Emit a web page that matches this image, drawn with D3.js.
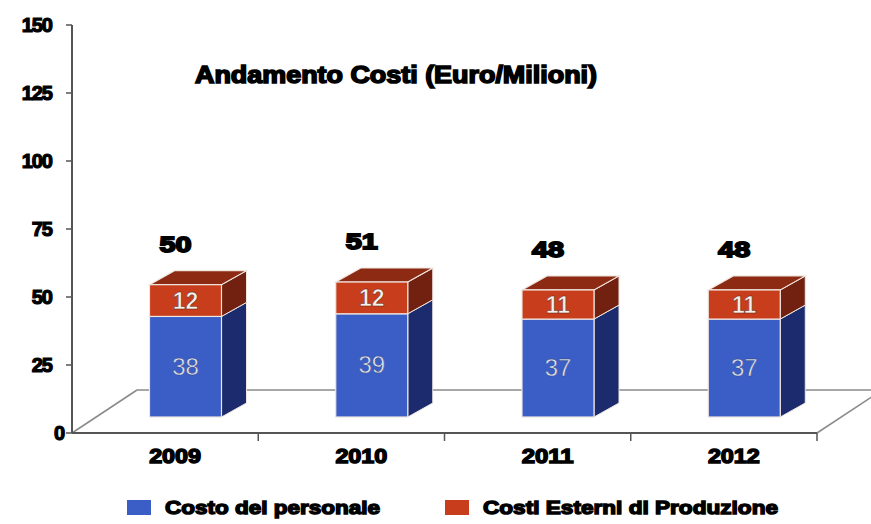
<!DOCTYPE html>
<html>
<head>
<meta charset="utf-8">
<script src="https://cdn.jsdelivr.net/npm/d3@7/dist/d3.min.js"></script>
<style>
  html, body { margin: 0; padding: 0; background: #fff; }
  svg { display: block; }
</style>
</head>
<body>
<script>
const years = ["2009", "2010", "2011", "2012"];
const personale = [38, 39, 37, 37];
const esterni = [12, 12, 11, 11];
const totals = [50, 51, 48, 48];
const yTicks = [0, 25, 50, 75, 100, 125, 150];
const seriesNames = ["Costo del personale", "Costi Esterni di Produzione"];
const title = "Andamento Costi (Euro/Milioni)";

const W = 871, H = 524;
const svg = d3.select("body").append("svg").attr("width", W).attr("height", H);

const x = d3.scaleBand().domain(years).range([72, 817]).padding(0);
const y = d3.scaleLinear().domain([0, 150]).range([433, 25]);
const yBar = d3.scaleLinear().domain([0, 150]).range([417, 20]);

const barW = 72, dx = 25, dy = -14;
const blue = {front: "#3b5ec6", side: "#1b2b6e", top: "#2a45a0"};
const red = {front: "#c83e1c", side: "#722110", top: "#8c2a13"};
const edge = "#efe6e0";
const font = "Liberation Sans, Arial, sans-serif";

// Floor
const floorD = 65, floorH = 43;
const floor = svg.append("g").attr("fill", "none").attr("stroke", "#8a8a8a").attr("stroke-width", 1.5);
floor.append("line").attr("x1", 72).attr("y1", y(0)).attr("x2", 72 + floorD).attr("y2", y(0) - floorH);
floor.append("line").attr("x1", 72 + floorD).attr("y1", y(0) - floorH).attr("x2", W).attr("y2", y(0) - floorH);
floor.append("line").attr("x1", 817).attr("y1", y(0)).attr("x2", 817 + floorD).attr("y2", y(0) - floorH);

// Y axis
const yAxis = svg.append("g");
yAxis.append("line").attr("x1", 72).attr("x2", 72).attr("y1", y(150)).attr("y2", y(0))
  .attr("stroke", "#555").attr("stroke-width", 2);
yAxis.selectAll(".yt").data(yTicks).enter().append("line")
  .attr("x1", 66).attr("x2", 72).attr("y1", d => y(d)).attr("y2", d => y(d))
  .attr("stroke", "#555").attr("stroke-width", 1.5);
yAxis.selectAll(".yl").data(yTicks).enter().append("text")
  .attr("x", d => d === 0 ? 64 : 52)
  .attr("y", d => y(d) + 7)
  .attr("text-anchor", "end")
  .attr("font-family", font)
  .attr("font-weight", "bold")
  .attr("font-size", 20)
  .attr("stroke", "#000").attr("stroke-width", 1.2)
  .attr("letter-spacing", -1)
  .attr("fill", "#000")
  .text(d => d);

// X axis
const xAxis = svg.append("g");
xAxis.append("line").attr("x1", 72).attr("x2", 817).attr("y1", y(0)).attr("y2", y(0))
  .attr("stroke", "#555").attr("stroke-width", 2);
xAxis.selectAll(".xt").data(years).enter().append("line")
  .attr("x1", d => x(d) + x.bandwidth()).attr("x2", d => x(d) + x.bandwidth())
  .attr("y1", y(0)).attr("y2", y(0) + 8)
  .attr("stroke", "#555").attr("stroke-width", 1.5);
xAxis.selectAll(".xl").data(years).enter().append("text")
  .attr("x", d => x(d) + x.bandwidth() / 2 + 10)
  .attr("y", 463)
  .attr("text-anchor", "middle")
  .attr("font-family", font)
  .attr("font-weight", "bold")
  .attr("font-size", 20)
  .attr("stroke", "#000").attr("stroke-width", 1.4)
  .attr("textLength", 52).attr("lengthAdjust", "spacingAndGlyphs")
  .text(d => d);

// Bars
function box(g, x0, yTop, yBot, c, drawTop) {
  g.append("path")
    .attr("d", `M${x0 + barW},${yBot} L${x0 + barW + dx},${yBot + dy} L${x0 + barW + dx},${yTop + dy} L${x0 + barW},${yTop} Z`)
    .attr("fill", c.side).attr("stroke", edge).attr("stroke-width", 1);
  if (drawTop) {
    g.append("path")
      .attr("d", `M${x0},${yTop} L${x0 + dx},${yTop + dy} L${x0 + barW + dx},${yTop + dy} L${x0 + barW},${yTop} Z`)
      .attr("fill", c.top).attr("stroke", edge).attr("stroke-width", 1.2);
  }
  g.append("rect")
    .attr("x", x0).attr("y", yTop).attr("width", barW).attr("height", yBot - yTop)
    .attr("fill", c.front).attr("stroke", edge).attr("stroke-width", 1.2);
}

years.forEach((yr, i) => {
  const g = svg.append("g");
  const x0 = x(yr) + 77.5;
  const yB = yBar(0), yM = yBar(personale[i]), yT = yBar(personale[i] + esterni[i]);
  box(g, x0, yM, yB, blue, false);
  box(g, x0, yT, yM, red, true);
  g.append("text")
    .attr("x", x0 + barW / 2).attr("y", (yM + yB) / 2 + 8)
    .attr("text-anchor", "middle")
    .attr("font-family", font)
    .attr("font-size", 24)
    .attr("fill", "#e2e5f0")
    .attr("stroke", "#2a3a70").attr("stroke-width", 0.4)
    .text(personale[i]);
  g.append("text")
    .attr("x", x0 + barW / 2).attr("y", (yT + yM) / 2 + 8)
    .attr("text-anchor", "middle")
    .attr("font-family", font)
    .attr("font-weight", "bold")
    .attr("font-size", 23)
    .attr("fill", "#f6f0ea")
    .attr("stroke", "#5a1a0a").attr("stroke-width", 0.5)
    .text(esterni[i]);
  g.append("text")
    .attr("x", x0 + barW / 2 - 10).attr("y", yBar(totals[i]) - 33)
    .attr("text-anchor", "middle")
    .attr("font-family", font)
    .attr("font-weight", "bold")
    .attr("font-size", 22)
    .attr("fill", "#000")
    .attr("stroke", "#000").attr("stroke-width", 1.8)
    .attr("textLength", 32).attr("lengthAdjust", "spacingAndGlyphs")
    .text(totals[i]);
});

// Title
svg.append("text")
  .attr("x", 195).attr("y", 83)
  .attr("font-family", font)
  .attr("font-weight", "bold")
  .attr("font-size", 24)
  .attr("fill", "#000")
  .attr("stroke", "#000").attr("stroke-width", 1.6)
  .attr("textLength", 402).attr("lengthAdjust", "spacingAndGlyphs")
  .text(title);

// Legend
const legendColors = [blue.front, red.front];
const legendX = [127, 445];
const legendLen = [215, 295];
const lg = svg.append("g");
seriesNames.forEach((name, i) => {
  lg.append("rect").attr("x", legendX[i]).attr("y", 500).attr("width", 24).attr("height", 15)
    .attr("fill", legendColors[i]);
  lg.append("text")
    .attr("x", legendX[i] + 38).attr("y", 514)
    .attr("font-family", font)
    .attr("font-weight", "bold")
    .attr("font-size", 19)
    .attr("fill", "#000")
    .attr("stroke", "#000").attr("stroke-width", 1.4)
    .attr("textLength", legendLen[i]).attr("lengthAdjust", "spacingAndGlyphs")
    .text(name);
});
</script>
</body>
</html>
